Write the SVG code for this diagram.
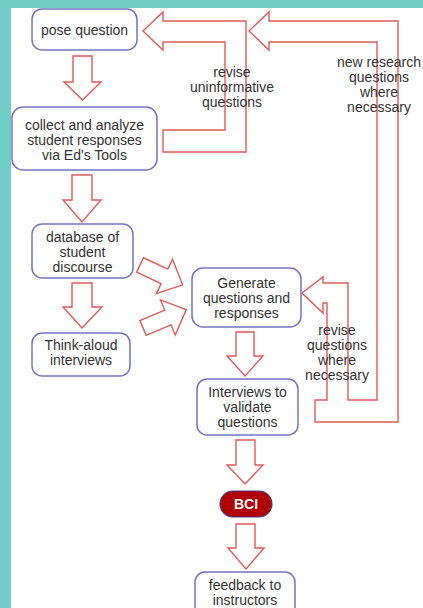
<svg xmlns="http://www.w3.org/2000/svg" width="423" height="608" viewBox="0 0 423 608">
<style>
.node rect{fill:#fff;stroke:#7474c0;stroke-width:1.5}
.node text,.lbl text{font-family:"Liberation Sans",Arial,sans-serif;font-size:14px;fill:#333;text-anchor:middle}
.arr{fill:#fff;stroke:#e05a5a;stroke-width:1.4;stroke-linejoin:miter}
</style>
<rect x="0" y="0" width="423" height="608" fill="#fff"/>
<rect x="0" y="0" width="423" height="8" fill="#6fccc7"/>
<rect x="0" y="0" width="11" height="608" fill="#6fccc7"/>
<g id="connectors">
<polygon class="arr" points="73,56 92,56 92,82 101,82 82.5,100 64,82 73,82"/>
<polygon class="arr" points="72,175 92,175 92,200 101,200 82,222 63,200 72,200"/>
<polygon class="arr" points="72,283 92,283 92,307 102,307 82,328 63,307 72,307"/>
<polygon class="arr" points="236,332 254,332 254,356 263,356 245,376 227,356 236,356"/>
<polygon class="arr" points="236,440 255,440 255,465 263,465 245,484 227,465 236,465"/>
<polygon class="arr" points="236,524 255,524 255,548 264,548 246,569 228,548 236,548"/>
<polygon class="arr" transform="translate(140,265) rotate(25)" points="0,-8 27,-8 27,-19 47,0 27,19 27,8 0,8"/>
<polygon class="arr" transform="translate(143,328) rotate(-23)" points="0,-8 27,-8 27,-19 47,0 27,19 27,8 0,8"/>
<polygon class="arr" points="163,130 225,130 225,42 163,42 163,50 143,31 163,12 163,21 246,21 246,152 163,152"/>
<polygon class="arr" points="315,400 327,400 327,303 323,303 323,313 302,293 323,277 323,283 348,283 348,400 377,400 377,42 269,42 269,50 249,31 269,12 269,21 398,21 398,422 315,422"/>
</g>
<g class="lbl">
<text x="232" y="77">revise</text>
<text x="232" y="92">uninformative</text>
<text x="232" y="107">questions</text>
<text x="379" y="67">new research</text>
<text x="379" y="82">questions</text>
<text x="379" y="97">where</text>
<text x="379" y="112">necessary</text>
<text x="337" y="335">revise</text>
<text x="337" y="350">questions</text>
<text x="337" y="365">where</text>
<text x="337" y="380">necessary</text>
</g>
<g id="pose" class="node"><rect x="32" y="9" width="105" height="41" rx="10"/><text x="84.5" y="35">pose question</text></g>
<g id="collect" class="node"><rect x="12" y="107" width="145" height="63" rx="11"/><text x="84.5" y="129.5">collect and analyze</text><text x="84.5" y="144.5">student responses</text><text x="84.5" y="159.5">via Ed's Tools</text></g>
<g id="database" class="node"><rect x="32" y="224" width="101" height="54" rx="10"/><text x="82.5" y="242">database of</text><text x="82.5" y="257">student</text><text x="82.5" y="272">discourse</text></g>
<g id="think" class="node"><rect x="32" y="333" width="98" height="43" rx="10"/><text x="81" y="350">Think-aloud</text><text x="81" y="365">interviews</text></g>
<g id="generate" class="node"><rect x="192" y="268" width="109" height="59" rx="11"/><text x="246.5" y="288">Generate</text><text x="246.5" y="303">questions and</text><text x="246.5" y="318">responses</text></g>
<g id="interviews" class="node"><rect x="197" y="379" width="101" height="56" rx="10"/><text x="247.5" y="397">Interviews to</text><text x="247.5" y="412">validate</text><text x="247.5" y="427">questions</text></g>
<g id="bci"><rect x="220" y="491" width="52" height="26" rx="13" fill="#b00000" stroke="#4a3a8a" stroke-width="1.2"/><text x="246" y="509" font-family="Liberation Sans,Arial,sans-serif" font-size="14px" font-weight="bold" fill="#fff" text-anchor="middle">BCI</text></g>
<g id="feedback" class="node"><rect x="195" y="572" width="100" height="45" rx="10"/><text x="245" y="590">feedback to</text><text x="245" y="605">instructors</text></g>
</svg>
